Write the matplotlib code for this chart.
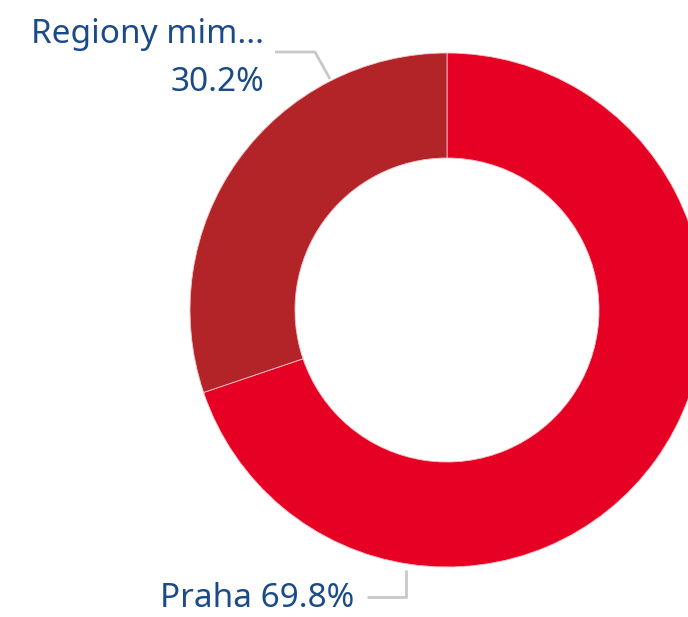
import matplotlib
matplotlib.use('Agg')
import matplotlib.pyplot as plt

# data
labels = ['Praha', 'Regiony mim...']
values = [69.8, 30.2]
colors = ['#E60023', '#B22428']

W, H = 688, 617
fig = plt.figure(figsize=(W / 100, H / 100), dpi=100)
ax = fig.add_axes([0, 0, 1, 1])

cx, cy = 447, H - 310
r_out, r_in = 257, 152

ax.pie(values, colors=colors, startangle=90, counterclock=False,
       center=(cx, cy), radius=r_out,
       wedgeprops=dict(width=r_out - r_in, edgecolor='#f4c4c8', linewidth=0.6))

ax.set_xlim(0, W)
ax.set_ylim(0, H)
ax.set_aspect('equal')
ax.axis('off')

txt_color = '#1B4A88'
fs = 24
fam = ['Noto Sans', 'DejaVu Sans']

# Regiony label (top left)
ax.text(264, H - 43, labels[1], ha='right', va='baseline', color=txt_color,
        fontsize=fs, family=fam)
ax.text(264, H - 91, f'{values[1]}%', ha='right', va='baseline', color=txt_color,
        fontsize=fs, family=fam)
ax.plot([275, 315, 330], [H - 52, H - 52, H - 79], color='#c8c8c8', lw=2,
        solid_capstyle='butt')

# Praha label (bottom)
ax.text(160, H - 607, f'{labels[0]} {values[0]}%', ha='left', va='baseline',
        color=txt_color, fontsize=fs, family=fam)
ax.plot([367, 406, 406], [H - 597, H - 597, H - 570], color='#c8c8c8', lw=2,
        solid_capstyle='butt')

fig.savefig('out.png', dpi=100)
